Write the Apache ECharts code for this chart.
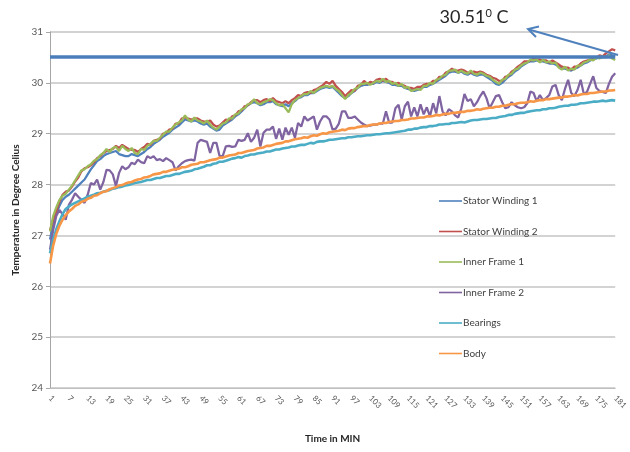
<!DOCTYPE html>
<html>
<head>
<meta charset="utf-8">
<script src="https://cdn.jsdelivr.net/npm/echarts@6/dist/echarts.min.js"></script>
<style>html,body{margin:0;padding:0;background:#fff}#c{width:630px;height:452px}</style>
</head>
<body>
<div id="c"></div>
<script>
// Time in minutes (categories 1..181)
var minutes = [];
for (var i = 1; i <= 181; i++) minutes.push(String(i));

var seriesNames = ['Stator Winding 1','Stator Winding 2','Inner Frame 1','Inner Frame 2','Bearings','Body'];

var statorWinding1 = [
26.92,27.22,27.42,27.58,27.70,27.76,27.80,27.86,27.92,27.98,
28.04,28.10,28.20,28.30,28.38,28.46,28.50,28.56,28.60,28.62,
28.64,28.66,28.60,28.58,28.56,28.56,28.60,28.58,28.56,28.60,
28.64,28.70,28.74,28.80,28.84,28.88,28.94,28.98,29.02,29.08,
29.12,29.16,29.22,29.28,29.26,29.24,29.26,29.24,29.20,29.18,
29.20,29.14,29.10,29.06,29.08,29.16,29.20,29.24,29.28,29.34,
29.38,29.44,29.50,29.56,29.60,29.62,29.60,29.56,29.58,29.62,
29.62,29.64,29.58,29.56,29.54,29.58,29.54,29.60,29.64,29.70,
29.72,29.76,29.76,29.80,29.80,29.84,29.88,29.90,29.92,29.90,
29.92,29.86,29.80,29.74,29.70,29.74,29.80,29.84,29.90,29.94,
29.96,29.96,29.98,29.98,30.02,30.00,30.04,30.02,30.00,29.96,
29.96,29.94,29.94,29.90,29.88,29.86,29.84,29.86,29.88,29.92,
29.92,29.96,29.98,30.02,30.06,30.10,30.14,30.20,30.22,30.22,
30.20,30.22,30.18,30.16,30.20,30.16,30.14,30.16,30.16,30.12,
30.08,30.04,29.98,29.96,30.00,30.06,30.12,30.16,30.22,30.26,
30.32,30.36,30.40,30.42,30.42,30.44,30.42,30.42,30.40,30.38,
30.38,30.36,30.32,30.28,30.28,30.26,30.24,30.28,30.30,30.34,
30.38,30.40,30.44,30.46,30.48,30.50,30.50,30.52,30.56,30.54,
30.52];

var statorWinding2 = [
27.10,27.30,27.48,27.66,27.80,27.86,27.88,27.96,28.06,28.14,
28.26,28.32,28.34,28.38,28.44,28.52,28.56,28.62,28.66,28.68,
28.70,28.76,28.72,28.78,28.74,28.70,28.68,28.68,28.64,28.70,
28.74,28.80,28.78,28.86,28.88,28.90,29.00,29.02,29.08,29.10,
29.20,29.20,29.30,29.32,29.30,29.28,29.30,29.30,29.26,29.24,
29.24,29.26,29.18,29.14,29.16,29.22,29.28,29.26,29.34,29.36,
29.44,29.46,29.54,29.56,29.62,29.66,29.66,29.62,29.66,29.68,
29.64,29.70,29.64,29.62,29.60,29.64,29.60,29.66,29.70,29.76,
29.74,29.80,29.82,29.80,29.86,29.88,29.92,29.96,30.02,29.98,
30.04,29.94,29.88,29.82,29.74,29.80,29.86,29.84,29.94,29.96,
30.04,29.98,30.02,30.00,30.06,30.08,30.04,30.08,30.02,30.02,
29.98,30.00,29.96,29.94,29.90,29.90,29.88,29.92,29.92,29.96,
29.98,29.98,30.04,30.04,30.12,30.12,30.20,30.22,30.28,30.24,
30.24,30.26,30.24,30.20,30.20,30.22,30.20,30.22,30.20,30.16,
30.14,30.10,30.08,30.04,30.04,30.12,30.14,30.22,30.26,30.32,
30.36,30.42,30.42,30.44,30.48,30.46,30.46,30.44,30.44,30.40,
30.44,30.40,30.36,30.32,30.30,30.30,30.26,30.32,30.32,30.38,
30.42,30.44,30.46,30.50,30.50,30.54,30.52,30.58,30.62,30.66,
30.64];

var innerFrame1 = [
27.08,27.38,27.55,27.70,27.78,27.82,27.90,27.98,28.08,28.18,
28.28,28.30,28.36,28.40,28.47,28.50,28.58,28.62,28.70,28.64,
28.72,28.74,28.66,28.76,28.70,28.66,28.72,28.62,28.60,28.70,
28.68,28.76,28.80,28.86,28.86,28.92,28.98,29.04,29.04,29.12,
29.18,29.22,29.26,29.36,29.28,29.24,29.32,29.26,29.24,29.20,
29.26,29.18,29.12,29.08,29.14,29.20,29.22,29.30,29.30,29.38,
29.40,29.48,29.50,29.58,29.60,29.68,29.60,29.58,29.62,29.64,
29.68,29.66,29.60,29.56,29.58,29.50,29.42,29.58,29.66,29.70,
29.74,29.78,29.78,29.84,29.80,29.86,29.90,29.92,29.94,29.92,
29.94,29.88,29.84,29.76,29.68,29.76,29.80,29.88,29.90,29.98,
29.98,30.00,29.96,30.00,30.04,30.02,30.08,30.02,30.04,29.98,
30.00,29.94,29.98,29.90,29.92,29.84,29.86,29.88,29.86,29.94,
29.94,30.00,29.98,30.06,30.08,30.14,30.16,30.24,30.24,30.26,
30.20,30.24,30.20,30.18,30.24,30.18,30.16,30.20,30.18,30.14,
30.12,30.06,30.02,29.98,30.06,30.08,30.16,30.18,30.26,30.28,
30.34,30.38,30.40,30.46,30.44,30.46,30.40,30.46,30.40,30.42,
30.38,30.40,30.30,30.26,30.32,30.24,30.28,30.26,30.34,30.34,
30.40,30.42,30.46,30.44,30.50,30.48,30.52,30.50,30.54,30.48,
30.45];

var innerFrame2 = [
26.72,27.10,27.38,27.50,27.42,27.31,27.60,27.70,27.83,27.76,
27.70,27.64,27.80,28.03,28.00,28.10,27.90,28.05,28.29,28.28,
28.20,27.97,28.23,28.36,28.30,28.34,28.43,28.40,28.49,28.44,
28.42,28.56,28.52,28.56,28.48,28.50,28.46,28.52,28.48,28.44,
28.28,28.36,28.42,28.46,28.48,28.49,28.47,28.82,28.88,28.86,
28.84,28.62,28.82,28.82,28.56,28.56,28.75,28.76,28.74,28.75,
28.88,28.86,28.88,29.01,28.84,28.92,29.08,28.75,29.02,29.08,
29.08,29.14,28.90,29.10,28.88,29.12,28.98,29.12,28.92,29.21,
29.14,29.34,29.26,29.30,29.34,29.08,29.24,29.34,29.34,29.28,
29.08,29.10,29.20,29.44,29.44,29.31,29.31,29.34,29.28,29.22,
29.18,29.15,29.16,29.18,29.18,29.20,29.20,29.44,29.22,29.22,
29.50,29.57,29.28,29.54,29.63,29.34,29.52,29.34,29.58,29.38,
29.52,29.34,29.60,29.40,29.74,29.44,29.36,29.48,29.44,29.36,
29.32,29.50,29.78,29.64,29.68,29.54,29.62,29.74,29.83,29.70,
29.50,29.62,29.74,29.76,29.62,29.50,29.52,29.62,29.56,29.52,
29.50,29.52,29.60,29.83,29.80,29.64,29.76,29.66,29.70,29.76,
29.93,29.96,29.76,29.66,29.88,30.06,29.80,29.74,29.86,30.06,
29.78,29.82,29.98,30.13,29.90,29.84,29.82,29.80,29.98,30.12,
30.19];

var bearings = [
26.65,26.92,27.12,27.28,27.42,27.52,27.57,27.61,27.64,27.67,
27.70,27.73,27.76,27.78,27.80,27.83,27.84,27.86,27.88,27.89,
27.92,27.93,27.95,27.96,27.98,27.99,28.01,28.03,28.04,28.05,
28.07,28.09,28.09,28.11,28.13,28.13,28.15,28.17,28.17,28.19,
28.21,28.21,28.23,28.25,28.26,28.27,28.30,28.31,28.33,28.35,
28.38,28.38,28.41,28.42,28.45,28.45,28.47,28.49,28.51,28.52,
28.54,28.53,28.56,28.57,28.59,28.59,28.61,28.62,28.63,28.65,
28.65,28.67,28.69,28.69,28.71,28.72,28.73,28.75,28.75,28.77,
28.78,28.78,28.80,28.82,28.81,28.84,28.85,28.85,28.86,28.88,
28.88,28.89,28.90,28.91,28.91,28.93,28.93,28.94,28.95,28.95,
28.96,28.97,28.97,28.98,28.99,28.99,29.00,29.01,29.01,29.02,
29.03,29.04,29.05,29.06,29.08,29.08,29.10,29.10,29.12,29.13,
29.13,29.15,29.15,29.16,29.18,29.18,29.19,29.19,29.21,29.21,
29.22,29.23,29.22,29.24,29.26,29.27,29.27,29.28,29.29,29.29,
29.30,29.31,29.31,29.33,29.34,29.35,29.37,29.37,29.39,29.40,
29.41,29.41,29.43,29.44,29.45,29.46,29.46,29.48,29.48,29.50,
29.50,29.51,29.53,29.54,29.55,29.55,29.57,29.57,29.58,29.60,
29.60,29.61,29.62,29.63,29.63,29.64,29.65,29.64,29.65,29.66,
29.65];

var body = [
26.45,26.80,27.03,27.19,27.31,27.40,27.47,27.52,27.58,27.61,
27.66,27.68,27.72,27.74,27.78,27.79,27.83,27.86,27.87,27.91,
27.93,27.95,27.98,27.99,28.02,28.04,28.05,28.08,28.10,28.11,
28.14,28.15,28.17,28.20,28.21,28.22,28.25,28.25,28.27,28.29,
28.30,28.31,28.34,28.34,28.36,28.39,28.40,28.41,28.44,28.44,
28.46,28.48,28.49,28.50,28.53,28.53,28.55,28.57,28.58,28.59,
28.62,28.62,28.64,28.66,28.67,28.68,28.71,28.72,28.73,28.76,
28.76,28.78,28.80,28.81,28.82,28.85,28.85,28.87,28.89,28.90,
28.91,28.93,28.92,28.95,28.97,28.96,28.99,29.01,29.00,29.03,
29.04,29.05,29.06,29.08,29.07,29.10,29.11,29.11,29.13,29.14,
29.15,29.15,29.17,29.18,29.18,29.20,29.21,29.21,29.23,29.24,
29.25,29.25,29.27,29.27,29.28,29.30,29.30,29.31,29.32,29.32,
29.34,29.34,29.35,29.37,29.36,29.38,29.39,29.39,29.41,29.41,
29.42,29.43,29.43,29.45,29.45,29.46,29.48,29.47,29.49,29.50,
29.51,29.51,29.53,29.53,29.55,29.55,29.57,29.58,29.58,29.60,
29.61,29.61,29.62,29.64,29.63,29.65,29.66,29.66,29.68,29.68,
29.69,29.70,29.71,29.71,29.73,29.73,29.74,29.76,29.75,29.77,
29.78,29.78,29.80,29.80,29.81,29.82,29.83,29.83,29.85,29.85,
29.86];

var peakValue = 30.51;
var peakLabel = '30.51';

var colors = ['#4F81BD','#C0504D','#9BBB59','#8064A2','#4BACC6','#F79646'];
var dataSets = [statorWinding1, statorWinding2, innerFrame1, innerFrame2, bearings, body];

var font = 'Lato, "Open Sans", sans-serif';

var series = seriesNames.map(function (name, idx) {
  var s = {
    name: name,
    type: 'line',
    data: dataSets[idx],
    symbol: 'none',
    showSymbol: false,
    smooth: false,
    lineStyle: { width: (idx >= 4 ? 2.6 : 2.25), color: colors[idx] },
    itemStyle: { color: colors[idx] },
    emphasis: { disabled: true },
    animation: false
  };
  if (idx === 0) {
    s.markLine = {
      silent: true,
      symbol: ['none', 'none'],
      label: { show: false },
      lineStyle: { color: '#4A7EBB', width: 3.5, type: 'solid' },
      data: [{ yAxis: peakValue }],
      animation: false
    };
  }
  return s;
});

var chart = echarts.init(document.getElementById('c'), null, { renderer: 'canvas' });
chart.setOption({
  animation: false,
  backgroundColor: '#ffffff',
  color: colors,
  grid: { left: 50, right: 8, top: 32, bottom: 64 },
  legend: {
    orient: 'vertical',
    left: 434,
    top: 191,
    itemWidth: 23,
    itemHeight: 12,
    itemGap: 20.5,
    icon: 'path://M0,5.2 L23,5.2 L23,6.8 L0,6.8 Z',
    textStyle: { fontFamily: font, fontSize: 10, color: '#404040', padding: [0, 0, 0, -4] },
    data: seriesNames
  },
  xAxis: {
    type: 'category',
    data: minutes,
    boundaryGap: false,
    name: 'Time in MIN',
    nameLocation: 'middle',
    nameGap: 46,
    nameTextStyle: { fontFamily: font, fontSize: 10, fontWeight: 'bold', color: '#262626' },
    axisLine: { lineStyle: { color: '#BFBFBF', width: 1 } },
    axisTick: { show: false },
    axisLabel: { interval: 5, rotate: -45, fontFamily: font, fontSize: 8, color: '#595959', margin: 9 },
    splitLine: { show: false }
  },
  yAxis: {
    type: 'value',
    min: 24,
    max: 31,
    interval: 1,
    name: 'Temperature in Degree Celius',
    nameLocation: 'middle',
    nameGap: 29,
    nameRotate: 90,
    nameTextStyle: { fontFamily: font, fontSize: 10, fontWeight: 'bold', color: '#262626' },
    axisLine: { show: true, lineStyle: { color: '#A6A6A6', width: 1 } },
    axisTick: { show: true, length: 4, lineStyle: { color: '#A6A6A6' } },
    axisLabel: { fontFamily: font, fontSize: 10, color: '#595959', margin: 7 },
    splitLine: { lineStyle: { color: '#C4C4C4', width: 1.5 } }
  },
  graphic: [
    {
      type: 'line',
      shape: { x1: 618, y1: 55, x2: 529, y2: 29.5 },
      style: { stroke: '#4F81BD', lineWidth: 2 },
      z: 100
    },
    {
      type: 'polyline',
      shape: { points: [[539, 26.5], [528, 29], [536, 37]] },
      style: { stroke: '#4F81BD', lineWidth: 2, fill: null },
      z: 100
    },
    {
      type: 'text',
      x: 474,
      y: 17,
      style: {
        text: '{a|' + peakLabel + '}{b|0}{a| C}',
        textAlign: 'center',
        textVerticalAlign: 'middle',
        rich: {
          a: { fontFamily: font, fontSize: 18, fill: '#262626', color: '#262626' },
          b: { fontFamily: font, fontSize: 11, fill: '#262626', color: '#262626', verticalAlign: 'top', padding: [0, 0, 8, 0] }
        }
      },
      z: 100
    }
  ],
  series: series
});
</script>
</body>
</html>
